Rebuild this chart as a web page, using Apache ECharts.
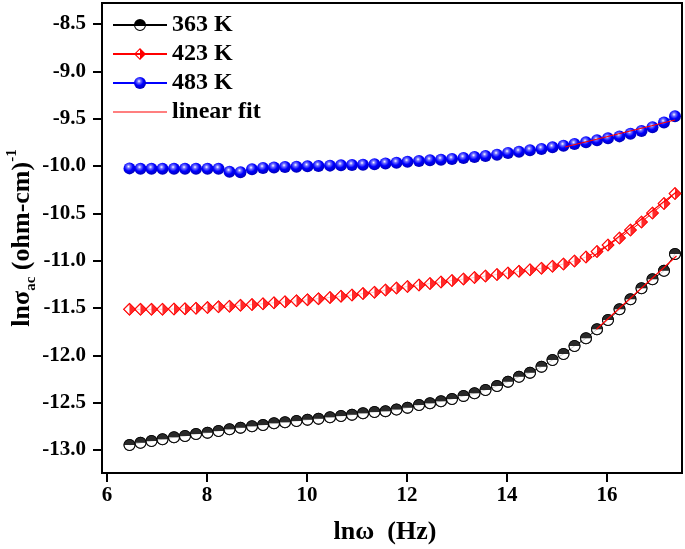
<!DOCTYPE html>
<html><head><meta charset="utf-8">
<script src="https://cdn.jsdelivr.net/npm/echarts@6/dist/echarts.min.js"></script>
<style>html,body{margin:0;padding:0;background:#fff}#c{width:685px;height:549px}</style>
</head><body><div id="c"></div>
<script>
const lnOmega = [6.45, 6.67, 6.89, 7.11, 7.34, 7.56, 7.78, 8.01, 8.23, 8.45,
  8.67, 8.90, 9.12, 9.34, 9.56, 9.79, 10.01, 10.23, 10.46, 10.68,
  10.90, 11.12, 11.35, 11.57, 11.79, 12.01, 12.24, 12.46, 12.68, 12.90,
  13.13, 13.35, 13.57, 13.80, 14.02, 14.24, 14.46, 14.69, 14.91, 15.13,
  15.35, 15.58, 15.80, 16.02, 16.25, 16.47, 16.69, 16.91, 17.14, 17.36];
const sigma363 = [-12.947, -12.923, -12.905, -12.887, -12.866, -12.852, -12.831, -12.817, -12.799, -12.781,
  -12.764, -12.750, -12.736, -12.718, -12.707, -12.694, -12.680, -12.669, -12.654, -12.641,
  -12.627, -12.612, -12.599, -12.590, -12.572, -12.553, -12.525, -12.507, -12.485, -12.461,
  -12.429, -12.401, -12.366, -12.324, -12.278, -12.226, -12.183, -12.120, -12.049, -11.986,
  -11.901, -11.820, -11.725, -11.627, -11.514, -11.408, -11.292, -11.197, -11.106, -10.930];
const sigma423 = [-11.514, -11.514, -11.514, -11.513, -11.511, -11.507, -11.502, -11.496, -11.488, -11.481,
  -11.472, -11.464, -11.455, -11.445, -11.434, -11.424, -11.412, -11.401, -11.388, -11.375,
  -11.362, -11.348, -11.333, -11.310, -11.289, -11.273, -11.257, -11.241, -11.225, -11.209,
  -11.194, -11.178, -11.162, -11.146, -11.130, -11.113, -11.096, -11.080, -11.059, -11.035,
  -11.003, -10.961, -10.903, -10.834, -10.761, -10.676, -10.591, -10.496, -10.396, -10.290];
const sigma483 = [-10.025, -10.030, -10.030, -10.030, -10.030, -10.030, -10.030, -10.030, -10.030, -10.060,
  -10.065, -10.035, -10.020, -10.015, -10.011, -10.007, -10.003, -10.000, -9.996, -9.993,
  -9.990, -9.986, -9.982, -9.973, -9.966, -9.956, -9.948, -9.940, -9.933, -9.926,
  -9.915, -9.905, -9.894, -9.880, -9.862, -9.849, -9.834, -9.820, -9.803, -9.785,
  -9.768, -9.750, -9.729, -9.708, -9.687, -9.659, -9.630, -9.590, -9.540, -9.475];
const fit363X = [15.79, 17.39], fit363Y = [-11.725, -10.951];
const fit423X = [15.72, 17.40], fit423Y = [-10.958, -10.270];
const fit483X = [15.16, 17.36], fit483Y = [-9.799, -9.514];
const xTicks = [6, 8, 10, 12, 14, 16];
const yTicks = [-13.0, -12.5, -12.0, -11.5, -11.0, -10.5, -10.0, -9.5, -9.0, -8.5];
const seriesNames = ['363 K', '423 K', '483 K', 'linear fit'];

const F = '"Liberation Serif","Times New Roman","DejaVu Serif",serif';
const halfCircle = 'path://M-10,0A10,10,0,0,1,10,0ZM10,0A10,10,0,0,1,-10,0L-8.2,0A8.2,8.2,0,0,0,8.2,0Z';
const halfDiamond = 'path://M0,-10L10,0L0,10ZM0,-10L-10,0L0,10L0,7.6L-7.6,0L0,-7.6Z';
const ball = new echarts.graphic.RadialGradient(0.42, 0.35, 0.65, [
  {offset: 0, color: '#ffffff'}, {offset: 0.22, color: '#7070ff'},
  {offset: 0.55, color: '#0000ff'}, {offset: 1, color: '#0000b8'}]);
const pts = ys => lnOmega.map((x, i) => [x, ys[i]]);
const seg = (xs, ys) => xs.map((x, i) => [x, ys[i]]);

const chart = echarts.init(document.getElementById('c'), null, {renderer: 'canvas'});
const fitStyle = {color: '#ff0000', width: 1.2};
const txt = (size) => ({fontFamily: F, fontWeight: 'bold', fontSize: size, color: '#000'});
chart.setOption({
  animation: false,
  backgroundColor: '#fff',
  grid: {left: 102, right: 3, top: 3, bottom: 76, show: true, borderColor: '#000', borderWidth: 2,
    containLabel: false, outerBoundsMode: 'none'},
  legend: {
    orient: 'vertical', left: 112, top: 13, padding: 0, itemWidth: 54, itemHeight: 15, itemGap: 5,
    selectedMode: false,
    data: [seriesNames[0], seriesNames[1], seriesNames[2], {name: seriesNames[3], icon: 'path://M0,0H100V2H0Z'}],
    textStyle: txt(24)
  },
  xAxis: {
    type: 'value', min: 5.9, max: 17.5,
    axisLine: {show: true, onZero: false, lineStyle: {color: '#000', width: 2}},
    axisTick: {show: true, customValues: xTicks, length: 9, lineStyle: {color: '#000', width: 2}},
    axisLabel: Object.assign({customValues: xTicks, margin: 12}, txt(21)),
    splitLine: {show: false},
    name: 'lnω  (Hz)', nameLocation: 'middle', nameGap: 46, nameMoveOverlap: false,
    nameTextStyle: Object.assign({padding: [0, 14, 0, 0]}, txt(26))
  },
  yAxis: {
    type: 'value', min: -13.243, max: -8.278,
    axisLine: {show: true, onZero: false, lineStyle: {color: '#000', width: 2}},
    axisTick: {show: true, customValues: yTicks, length: 9, lineStyle: {color: '#000', width: 2}},
    axisLabel: Object.assign({customValues: yTicks, formatter: v => v.toFixed(1), margin: 16}, txt(21)),
    splitLine: {show: false},
    name: 'lnσ{s|ac} (ohm-cm){p|-1}', nameLocation: 'middle', nameGap: 63, nameMoveOverlap: false,
    nameTextStyle: Object.assign({lineHeight: 34, rich: {
      s: Object.assign({verticalAlign: 'bottom', lineHeight: 14}, txt(15)),
      p: Object.assign({verticalAlign: 'top', lineHeight: 14}, txt(15))
    }}, txt(26))
  },
  series: [
    {name: seriesNames[0], type: 'line', data: pts(sigma363), symbol: halfCircle, symbolSize: 12,
      itemStyle: {color: '#000'}, lineStyle: {color: '#000', width: 1}, z: 2},
    {name: '_w363', type: 'scatter', data: pts(sigma363), symbol: 'circle', symbolSize: 10.5,
      itemStyle: {color: '#fff'}, z: 3, silent: true},
    {name: '_h363', type: 'scatter', data: pts(sigma363), symbol: halfCircle, symbolSize: 12,
      itemStyle: {color: '#000'}, z: 4, silent: true},
    {name: seriesNames[1], type: 'line', data: pts(sigma423), symbol: halfDiamond, symbolSize: 13,
      itemStyle: {color: '#ff0000'}, lineStyle: {color: '#ff0000', width: 1}, z: 2},
    {name: '_w423', type: 'scatter', data: pts(sigma423), symbol: 'diamond', symbolSize: 11,
      itemStyle: {color: '#fff'}, z: 3, silent: true},
    {name: '_h423', type: 'scatter', data: pts(sigma423), symbol: halfDiamond, symbolSize: 13,
      itemStyle: {color: '#ff0000'}, z: 4, silent: true},
    {name: seriesNames[2], type: 'line', data: pts(sigma483), symbol: 'circle', symbolSize: 12,
      itemStyle: {color: ball}, lineStyle: {color: '#0000ff', width: 1}, z: 2},
    {name: seriesNames[3], type: 'line', data: seg(fit363X, fit363Y), symbol: 'none',
      itemStyle: {color: '#ff0000'}, lineStyle: fitStyle, z: 6},
    {name: seriesNames[3], type: 'line', data: seg(fit423X, fit423Y), symbol: 'none',
      itemStyle: {color: '#ff0000'}, lineStyle: fitStyle, z: 6},
    {name: seriesNames[3], type: 'line', data: seg(fit483X, fit483Y), symbol: 'none',
      itemStyle: {color: '#ff0000'}, lineStyle: fitStyle, z: 6}
  ]
});
</script>
</body></html>
